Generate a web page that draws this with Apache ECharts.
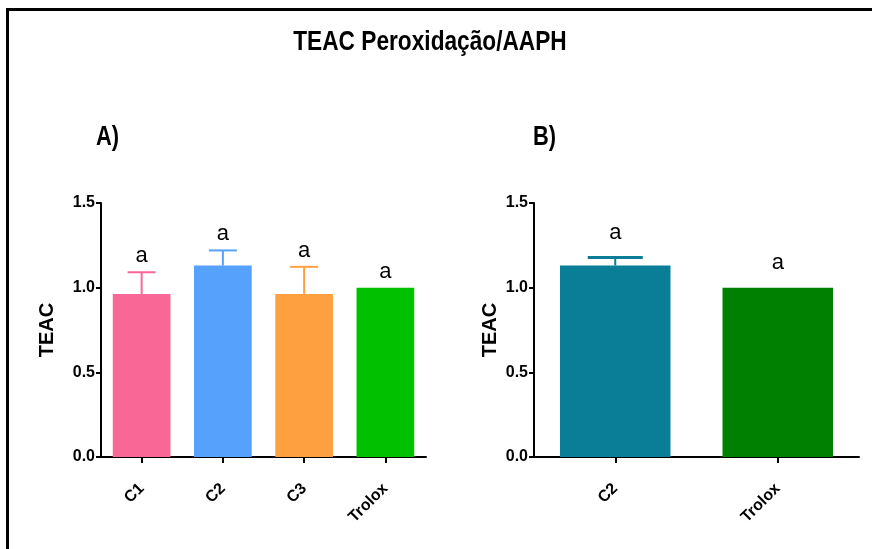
<!DOCTYPE html>
<html>
<head>
<meta charset="utf-8">
<script src="https://cdn.jsdelivr.net/npm/echarts@6/dist/echarts.min.js"></script>
<style>
  html, body { margin: 0; padding: 0; background: #fff; }
  #chart { width: 872px; height: 549px; }
</style>
</head>
<body>
<div id="chart"></div>
<script>
// Panel A: three extracts and the Trolox standard
const groupsA = ['C1', 'C2', 'C3', 'Trolox'];
const meansA = [0.963, 1.131, 0.963, 1.0];
const errA = [0.128, 0.089, 0.160, 0];
const lettersA = ['a', 'a', 'a', 'a'];

// Panel B: C2 against Trolox
const groupsB = ['C2', 'Trolox'];
const meansB = [1.131, 1.0];
const errB = [0.047, 0];
const lettersB = ['a', 'a'];

const colorsA = ['#F96796', '#55A1FB', '#FFA040', '#00C000'];
const colorsB = ['#0A7E97', '#008000'];

const SANS = '"Liberation Sans", Arial, sans-serif';

const chart = echarts.init(document.getElementById('chart'), null, { renderer: 'canvas' });

function yAxisFor(gridIndex, nameGap) {
  return {
    type: 'value', gridIndex: gridIndex,
    min: 0, max: 1.5, interval: 0.5,
    name: 'TEAC', nameLocation: 'middle', nameRotate: 90, nameGap: nameGap,
    nameTextStyle: { fontFamily: SANS, fontWeight: 'bold', fontSize: 20, color: '#000' },
    axisLine: { show: true, lineStyle: { color: '#000', width: 2 } },
    axisTick: { show: true, length: 5, lineStyle: { color: '#000', width: 2 } },
    axisLabel: { fontFamily: SANS, fontWeight: 'bold', fontSize: 16, color: '#000', margin: 6,
                 formatter: v => v.toFixed(1) },
    splitLine: { show: false }
  };
}

function xAxisFor(gridIndex, cats) {
  return {
    type: 'category', gridIndex: gridIndex, data: cats,
    axisLine: { show: true, lineStyle: { color: '#000', width: 2 } },
    axisTick: { show: true, alignWithLabel: true, length: 6, lineStyle: { color: '#000', width: 2 } },
    axisLabel: { fontFamily: SANS, fontWeight: 'bold', fontSize: 16, color: '#000', rotate: 45, margin: 29 }
  };
}

// Upward-only error bar with cap, plus the significance letter above it
function errorRender(colors, letters, capW, capLW, letterGap) {
  return function (params, api) {
    const i = api.value(0), m = api.value(1), e = api.value(2);
    const base = api.coord([i, m]);
    const top = api.coord([i, m + e]);
    const color = colors[params.dataIndex];
    const children = [];
    if (e > 0) {
      children.push({ type: 'line', shape: { x1: base[0], y1: base[1], x2: top[0], y2: top[1] },
                      style: { stroke: color, lineWidth: 2 } });
      children.push({ type: 'line', shape: { x1: top[0] - capW / 2, y1: top[1], x2: top[0] + capW / 2, y2: top[1] },
                      style: { stroke: color, lineWidth: capLW } });
    }
    children.push({ type: 'text', x: top[0], y: top[1] - letterGap,
                    style: { text: letters[params.dataIndex], font: '22px ' + SANS, fill: '#000',
                             align: 'center', verticalAlign: 'middle' } });
    return { type: 'group', children: children };
  };
}

function barData(values, colors) {
  return values.map((v, k) => ({ value: v, itemStyle: { color: colors[k] } }));
}
function errData(values, errs) {
  return values.map((v, k) => [k, v, errs[k]]);
}

// Condensed bold heading text (horizontally compressed sans)
function headingText(text, x, y, size, align) {
  return { type: 'text', x: x, y: y, scaleX: 0.81, scaleY: 1,
           style: { text: text, font: 'bold ' + size + 'px ' + SANS, fill: '#000',
                    align: align, verticalAlign: 'middle' } };
}

const option = {
  animation: false,
  backgroundColor: '#fff',
  grid: [
    { left: 101, top: 203, width: 325, height: 254 },
    { left: 534, top: 203, width: 325, height: 254 }
  ],
  xAxis: [xAxisFor(0, groupsA), xAxisFor(1, groupsB)],
  yAxis: [yAxisFor(0, 44), yAxisFor(1, 34)],
  series: [
    { type: 'bar', xAxisIndex: 0, yAxisIndex: 0, barWidth: '71%', data: barData(meansA, colorsA) },
    { type: 'custom', xAxisIndex: 0, yAxisIndex: 0, z: 3,
      renderItem: errorRender(colorsA, lettersA, 28, 2, 16), data: errData(meansA, errA) },
    { type: 'bar', xAxisIndex: 1, yAxisIndex: 1, barWidth: '68%', data: barData(meansB, colorsB) },
    { type: 'custom', xAxisIndex: 1, yAxisIndex: 1, z: 3,
      renderItem: errorRender(colorsB, lettersB, 55, 3, 25), data: errData(meansB, errB) }
  ],
  graphic: [
    { type: 'polyline', shape: { points: [[7.5, 549], [7.5, 9.5], [872, 9.5]] },
      style: { stroke: '#000', lineWidth: 3, fill: null } },
    headingText('TEAC Peroxidação/AAPH', 430, 42, 28, 'center'),
    headingText('A)', 96, 138, 27, 'left'),
    headingText('B)', 533, 138, 27, 'left')
  ]
};

chart.setOption(option);
</script>
</body>
</html>
